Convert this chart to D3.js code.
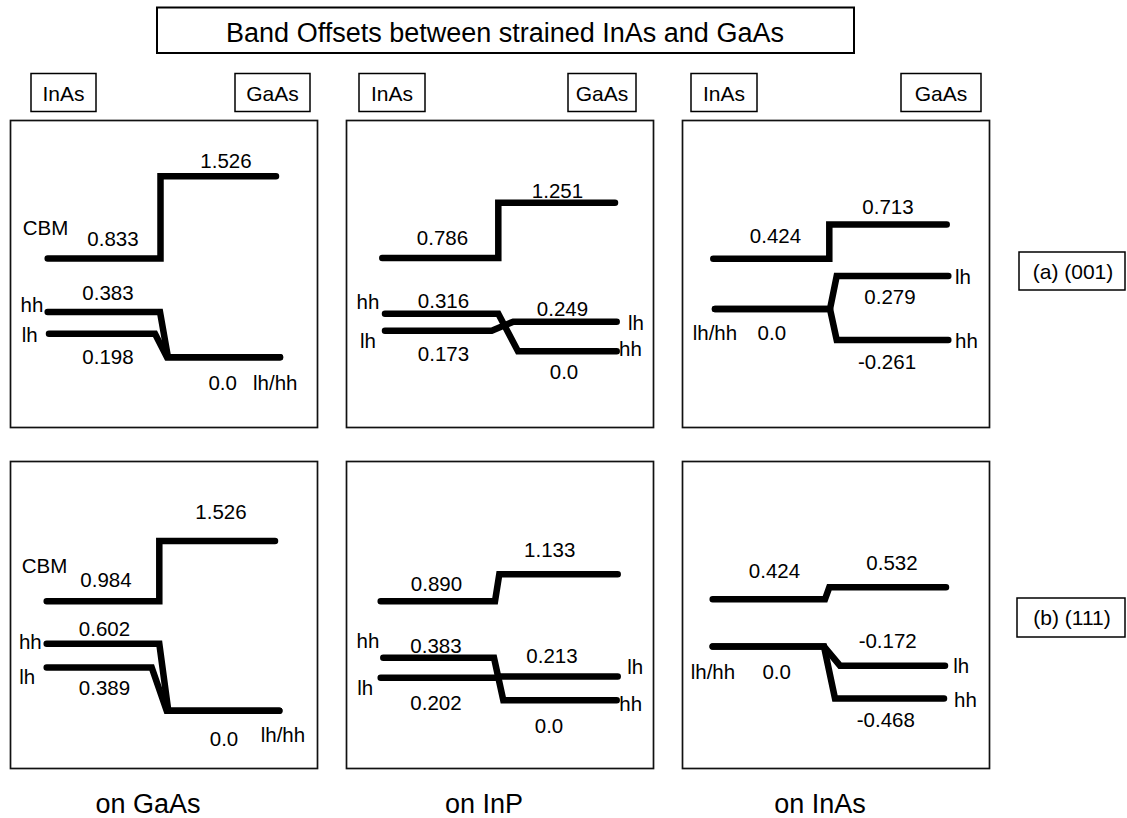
<!DOCTYPE html>
<html>
<head>
<meta charset="utf-8">
<script src="https://cdn.jsdelivr.net/npm/d3@7"></script>
<style>
  html, body { margin: 0; padding: 0; background: #fff; }
  svg { display: block; font-family: "Liberation Sans", Arial, Helvetica, sans-serif; }
</style>
</head>
<body>
<svg id="chart" width="1127" height="818"></svg>
<script>
// ---- Data: band edge energies in eV ----
// Panel order: (001) on GaAs, on InP, on InAs, then (111) on GaAs, on InP, on InAs
const titleText = "Band Offsets between strained InAs and GaAs";
const substrates = ["on GaAs", "on InP", "on InAs"];
const orientations = ["(a) (001)", "(b) (111)"];
const layers = ["InAs", "GaAs"];

const cbmInAs = [0.833, 0.786, 0.424, 0.984, 0.890, 0.424];
const cbmGaAs = [1.526, 1.251, 0.713, 1.526, 1.133, 0.532];
const hhInAs  = [0.383, 0.316, 0.0,   0.602, 0.383, 0.0];
const hhGaAs  = [0.0,   0.0,  -0.261, 0.0,   0.0,  -0.468];
const lhInAs  = [0.198, 0.173, 0.0,   0.389, 0.202, 0.0];
const lhGaAs  = [0.0,   0.249, 0.279, 0.0,   0.213, -0.172];

const series = { cbmInAs, cbmGaAs, hhInAs, hhGaAs, lhInAs, lhGaAs };
const bands = [
  { key: "cbm", from: "cbmInAs", to: "cbmGaAs" },
  { key: "hh",  from: "hhInAs",  to: "hhGaAs" },
  { key: "lh",  from: "lhInAs",  to: "lhGaAs" }
];

// ---- Layout ----
const colLeft = [10, 346, 682];
const rowTop = [120, 461];
const panelW = 308, panelH = 308;
// pixel position of 0 eV inside each panel, and vertical pixels per eV for each row
const zeroY = [237.3, 231.2, 189.1, 249.7, 239.3, 185.5];
const pxPerEV = [118.6, 111.2];

// horizontal course of each band inside a panel: [start, leave InAs level, reach GaAs level, end]
const bandGeom = {
  cbm: [[37.7,150.5,150.5,266],[36.3,152.3,152.3,269],[31.3,147.3,147.3,264.7],
        [36.7,149.3,149.3,265],[34.7,149,153.3,271.7],[30.7,143,147.3,264]],
  hh:  [[37.7,150,158,270],[39,152.3,172,270.7],[33,148,154.7,266.3],
        [36.7,149.3,158.3,269.3],[37.3,148,157.3,270.7],[30.7,142,153,262]],
  lh:  [[39,145,157,270],[39,145.7,167.3,270.7],[33,148,154.7,266.3],
        [36.7,141.7,156.7,269.3],[34.7,149,154,271.7],[30.7,142,158,263]]
};

// annotations: value labels (ref only) and band names (name + ref), x local, dy from the band level
const labelSpec = [
  [ {ref:"cbmGaAs", x:216, dy:-8.4, a:"middle"},
    {name:"CBM", ref:"cbmInAs", x:12.7, dy:-24, a:"start"},
    {ref:"cbmInAs", x:103, dy:-13, a:"middle"},
    {ref:"hhInAs", x:98, dy:-11.7, a:"middle"},
    {name:"hh", ref:"hhInAs", x:33.3, dy:0, a:"end"},
    {name:"lh", ref:"lhInAs", x:11.7, dy:7.7, a:"start"},
    {ref:"lhInAs", x:98, dy:30, a:"middle"},
    {ref:"hhGaAs", x:212.7, dy:32.3, a:"middle"},
    {name:"lh/hh", ref:"hhGaAs", x:243, dy:32.3, a:"start"} ],
  [ {ref:"cbmGaAs", x:211.5, dy:-5, a:"middle"},
    {ref:"cbmInAs", x:96.5, dy:-13.4, a:"middle"},
    {name:"hh", ref:"hhInAs", x:33.3, dy:-5, a:"end"},
    {ref:"hhInAs", x:97.5, dy:-5.7, a:"middle"},
    {ref:"lhGaAs", x:216.5, dy:-5.7, a:"middle"},
    {name:"lh", ref:"lhGaAs", x:282, dy:8.3, a:"start"},
    {name:"lh", ref:"lhInAs", x:14, dy:17.7, a:"start"},
    {ref:"lhInAs", x:97.5, dy:30, a:"middle"},
    {name:"hh", ref:"hhGaAs", x:273, dy:5, a:"start"},
    {ref:"hhGaAs", x:218, dy:27.3, a:"middle"} ],
  [ {ref:"cbmGaAs", x:206, dy:-10.7, a:"middle"},
    {ref:"cbmInAs", x:93.5, dy:-15.7, a:"middle"},
    {name:"lh", ref:"lhGaAs", x:273, dy:8.3, a:"start"},
    {ref:"lhGaAs", x:208, dy:27.7, a:"middle"},
    {name:"lh/hh", ref:"lhInAs", x:10.7, dy:30.4, a:"start"},
    {ref:"lhInAs", x:89.8, dy:30.4, a:"middle"},
    {name:"hh", ref:"hhGaAs", x:273, dy:8.3, a:"start"},
    {ref:"hhGaAs", x:205, dy:29.3, a:"middle"} ],
  [ {ref:"cbmGaAs", x:211, dy:-21.6, a:"middle"},
    {name:"CBM", ref:"cbmInAs", x:11.7, dy:-28.3, a:"start"},
    {ref:"cbmInAs", x:96, dy:-14, a:"middle"},
    {ref:"hhInAs", x:94.5, dy:-7.3, a:"middle"},
    {name:"hh", ref:"hhInAs", x:31.7, dy:5, a:"end"},
    {name:"lh", ref:"lhInAs", x:9.3, dy:16.6, a:"start"},
    {ref:"lhInAs", x:94.5, dy:27.3, a:"middle"},
    {ref:"hhGaAs", x:214, dy:35, a:"middle"},
    {name:"lh/hh", ref:"hhGaAs", x:250.7, dy:31.7, a:"start"} ],
  [ {ref:"cbmGaAs", x:203.7, dy:-17.6, a:"middle"},
    {ref:"cbmInAs", x:90.5, dy:-10.7, a:"middle"},
    {name:"hh", ref:"hhInAs", x:33.3, dy:-10, a:"end"},
    {ref:"hhInAs", x:90, dy:-5, a:"middle"},
    {ref:"lhGaAs", x:206, dy:-14, a:"middle"},
    {name:"lh", ref:"lhGaAs", x:281.3, dy:-2.3, a:"start"},
    {name:"lh", ref:"lhInAs", x:11.3, dy:17.3, a:"start"},
    {ref:"lhInAs", x:90, dy:32.3, a:"middle"},
    {name:"hh", ref:"hhGaAs", x:273.3, dy:10.7, a:"start"},
    {ref:"hhGaAs", x:203, dy:32.3, a:"middle"} ],
  [ {ref:"cbmGaAs", x:210, dy:-17, a:"middle"},
    {ref:"cbmInAs", x:92.5, dy:-21.7, a:"middle"},
    {ref:"lhGaAs", x:205.7, dy:-18, a:"middle"},
    {name:"lh", ref:"lhGaAs", x:271.3, dy:7.7, a:"start"},
    {name:"lh/hh", ref:"lhInAs", x:8.7, dy:32.7, a:"start"},
    {ref:"lhInAs", x:94.7, dy:32.7, a:"middle"},
    {name:"hh", ref:"hhGaAs", x:272, dy:8.4, a:"start"},
    {ref:"hhGaAs", x:203.8, dy:28.4, a:"middle"} ]
];

// header boxes above the top row of panels: [x, width] for InAs and GaAs
const headerInAs = [[31, 65], [359, 66], [691, 66]];
const headerGaAs = [[235, 75], [568, 68], [901, 80]];
const orientBox = [[1019, 252, 106, 38], [1017, 598, 108, 39]];

const fmt = v => (v === 0 ? "0.0" : v.toFixed(3));

const svg = d3.select("#chart");

// Title
svg.append("rect").attr("x", 157).attr("y", 7.5).attr("width", 697).attr("height", 45.5)
  .attr("fill", "none").attr("stroke", "#000").attr("stroke-width", 2);
svg.append("text").attr("x", 505).attr("y", 42).attr("text-anchor", "middle")
  .attr("font-size", 27).text(titleText);

// Material headers
layers.forEach((name, i) => {
  const boxes = i === 0 ? headerInAs : headerGaAs;
  boxes.forEach(([bx, bw]) => {
    svg.append("rect").attr("x", bx).attr("y", 73.5).attr("width", bw).attr("height", 38)
      .attr("fill", "none").attr("stroke", "#000").attr("stroke-width", 1.5);
    svg.append("text").attr("x", bx + bw / 2).attr("y", 101).attr("text-anchor", "middle")
      .attr("font-size", 21).text(name);
  });
});

// Orientation labels on the right
orientations.forEach((name, r) => {
  const [bx, by, bw, bh] = orientBox[r];
  svg.append("rect").attr("x", bx).attr("y", by).attr("width", bw).attr("height", bh)
    .attr("fill", "none").attr("stroke", "#000").attr("stroke-width", 1.5);
  svg.append("text").attr("x", bx + bw / 2 + 1).attr("y", by + bh / 2 + 7.5)
    .attr("text-anchor", "middle").attr("font-size", 21).text(name);
});

// Substrate captions under the bottom row
substrates.forEach((name, c) => {
  svg.append("text").attr("x", colLeft[c] + panelW / 2 - 16).attr("y", 813)
    .attr("text-anchor", "middle").attr("font-size", 27).text(name);
});

// Panels
for (let r = 0; r < 2; r++) {
  for (let c = 0; c < 3; c++) {
    const p = r * 3 + c;
    const g = svg.append("g").attr("transform", `translate(${colLeft[c]},${rowTop[r]})`);

    g.append("rect").attr("x", 0.5).attr("y", 0.5).attr("width", panelW - 1).attr("height", panelH - 1)
      .attr("fill", "none").attr("stroke", "#111").attr("stroke-width", 1.7);

    const y = d3.scaleLinear().domain([0, 1]).range([zeroY[p], zeroY[p] - pxPerEV[r]]);
    const line = d3.line().x(d => d[0]).y(d => y(d[1]));

    bands.forEach(b => {
      const [x0, xa, xb, x1] = bandGeom[b.key][p];
      const eIn = series[b.from][p], eGa = series[b.to][p];
      g.append("path")
        .attr("d", line([[x0, eIn], [xa, eIn], [xb, eGa], [x1, eGa]]))
        .attr("fill", "none").attr("stroke", "#000").attr("stroke-width", 6.5)
        .attr("stroke-linecap", "round").attr("stroke-linejoin", "miter");
    });

    labelSpec[p].forEach(l => {
      const v = series[l.ref][p];
      g.append("text")
        .attr("x", l.x).attr("y", y(v) + l.dy)
        .attr("text-anchor", l.a).attr("font-size", 20.5)
        .text(l.name ? l.name : fmt(v));
    });
  }
}
</script>
</body>
</html>
